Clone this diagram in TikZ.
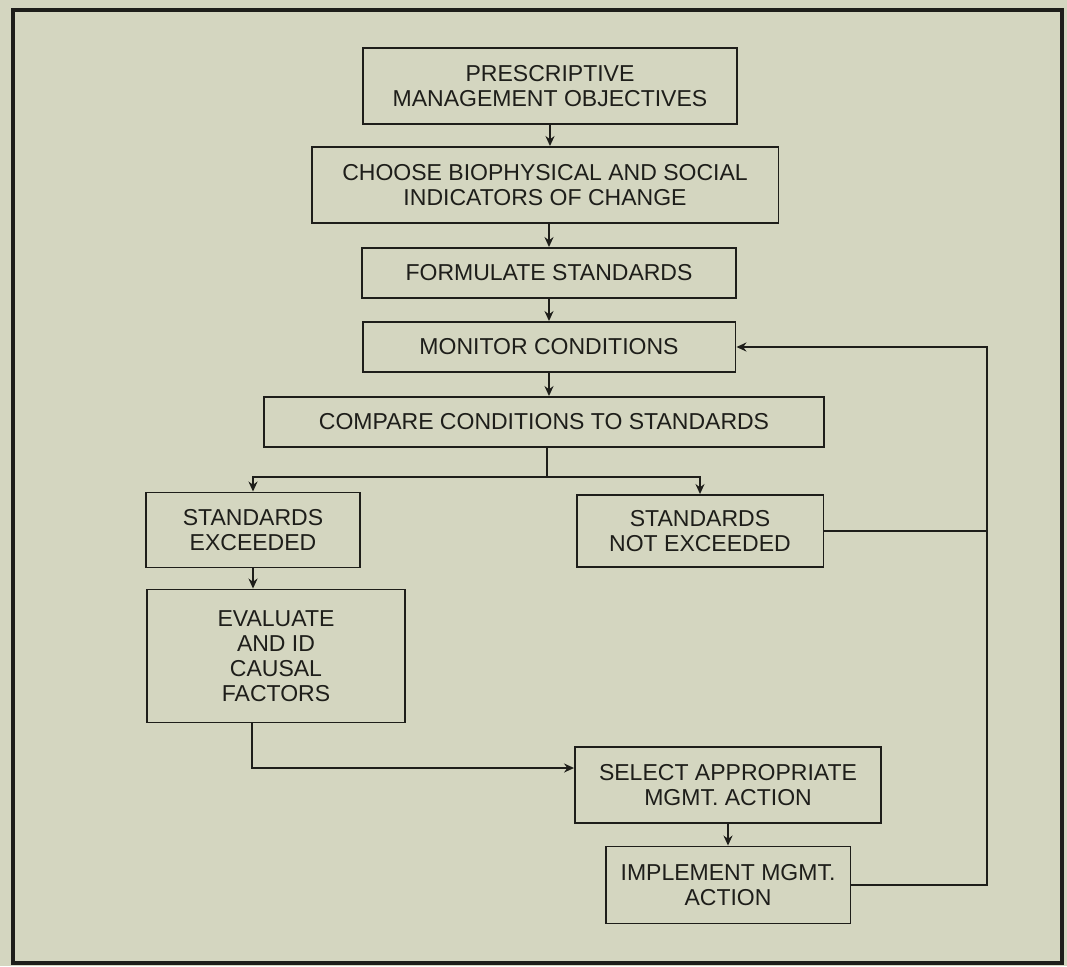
\documentclass[tikz,border=0pt]{standalone}
\usepackage{fontspec}
\setmainfont{Liberation Sans}
\usepackage{tikz}
\usetikzlibrary{arrows.meta, positioning, calc}
\usepackage{xcolor}
\definecolor{paper}{RGB}{212, 214, 192}
\definecolor{ink}{RGB}{30, 30, 26}

\begin{document}
\begin{tikzpicture}[
  x=0.02cm, y=-0.02cm,
  box/.style={draw=ink, line width=1.1pt, inner sep=0pt, align=center,
              text=ink, font=\fontsize{13.1}{14.2}\selectfont},
  arr/.style={-{Stealth[length=2mm, width=1.8mm]}, line width=1.1pt, ink},
  ln/.style={line width=1.1pt, ink}
]
  % page and frame
  \fill[paper] (0,0) rectangle (1067,966);
  \useasboundingbox (0,0) rectangle (1067,966);
  \draw[ink, line width=2pt] (13,10) rectangle (1062,963);

  \node[box, minimum width=7.48cm, minimum height=1.52cm] (obj) at (550,86)
    {PRESCRIPTIVE\\MANAGEMENT OBJECTIVES};
  \node[box, minimum width=9.34cm, minimum height=1.52cm] (ind) at (545,185)
    {CHOOSE BIOPHYSICAL AND SOCIAL\\INDICATORS OF CHANGE};
  \node[box, minimum width=7.48cm, minimum height=1.0cm] (std) at (549,273)
    {FORMULATE STANDARDS};
  \node[box, minimum width=7.46cm, minimum height=1.0cm] (mon) at (549,347)
    {MONITOR CONDITIONS};
  \node[box, minimum width=11.2cm, minimum height=1.0cm] (cmp) at (544,422)
    {COMPARE CONDITIONS TO STANDARDS};
  \node[box, minimum width=4.28cm, minimum height=1.5cm] (exc) at (253,530)
    {STANDARDS\\EXCEEDED};
  \node[box, minimum width=4.94cm, minimum height=1.44cm] (nex) at (700,531)
    {STANDARDS\\NOT EXCEEDED};
  \node[box, minimum width=5.16cm, minimum height=2.66cm] (eval) at (276,656)
    {EVALUATE\\AND ID\\CAUSAL\\FACTORS};
  \node[box, minimum width=6.12cm, minimum height=1.52cm] (sel) at (728,785)
    {SELECT APPROPRIATE\\MGMT. ACTION};
  \node[box, minimum width=4.9cm, minimum height=1.54cm] (imp) at (728,885)
    {IMPLEMENT MGMT.\\ACTION};

  % junctions
  \coordinate (split) at (547,477);
  \coordinate (rail) at (987,347);
  \coordinate (bend) at (252,768);

  \draw[arr] (obj.south) -- (obj.south |- ind.north);
  \draw[arr] (std.north |- ind.south) -- (std.north);
  \draw[arr] (std) -- (mon);
  \draw[arr] (mon) -- (mon |- cmp.north);
  \draw[ln] (cmp.south -| split) -- (split);
  \draw[arr] (split) -| (exc.north);
  \draw[arr] (split) -| (nex.north);
  \draw[arr] (exc.south) -- (exc.south |- eval.north);
  \draw[arr] (eval.south -| bend) -- (bend) -- (bend -| sel.west);
  \draw[arr] (sel.south -| imp) -- (imp.north);
  \draw[arr] (imp.east) -| (rail) -- (mon.east |- rail);
  \draw[ln] (nex.east) -- (nex.east -| rail);
\end{tikzpicture}
\end{document}
